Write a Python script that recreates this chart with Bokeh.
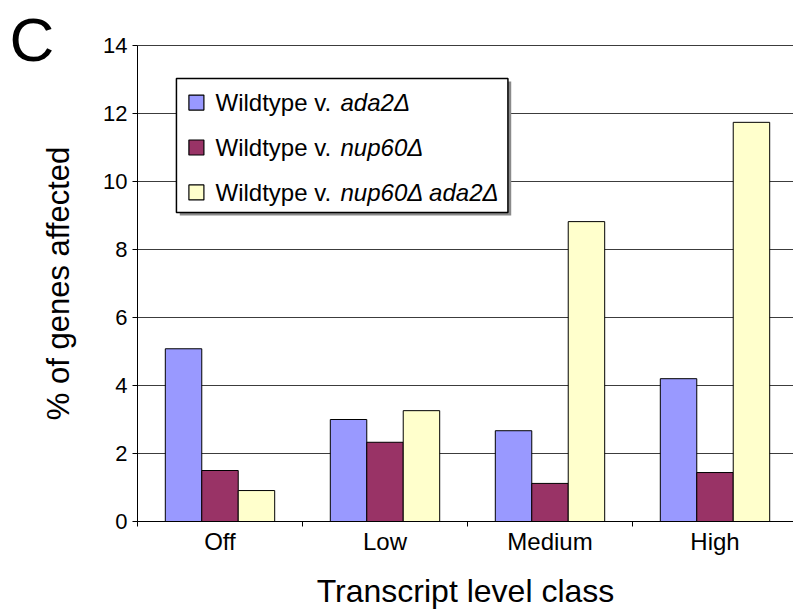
import numpy as np
from bokeh.plotting import figure
from bokeh.models import Range1d, FixedTicker, Label, LinearAxis
from bokeh.core.properties import value
from bokeh.embed import file_html
from bokeh.resources import INLINE

# Data: percentage of genes affected per transcript level class
categories = ["Off", "Low", "Medium", "High"]
ada2 = [5.08, 3.0, 2.67, 4.2]
nup60 = [1.5, 2.33, 1.12, 1.44]
nup60_ada2 = [0.91, 3.26, 8.82, 11.74]

series_values = [ada2, nup60, nup60_ada2]
series_colors = ["#9999FF", "#993366", "#FFFFCC"]
legend_plain = ["Wildtype v. ", "Wildtype v. ", "Wildtype v. "]
legend_italic = ["ada2\u0394", "nup60\u0394", "nup60\u0394 ada2\u0394"]
y_ticks = [0, 2, 4, 6, 8, 10, 12, 14]

FONT = "Liberation Sans"
BAR_W = 0.221
W, H = 793, 611
# pixel geometry of the value area inside the canvas
AX_LEFT, AX_BOTTOM, PX_PER_CAT, PX_PER_UNIT = 137, 521, 165, 34

n_cat = len(categories)
y_max = y_ticks[-1]

# The plot area fills the whole canvas; the axes sit at fixed data locations.
p = figure(width=W, height=H, output_backend="svg", toolbar_location=None,
           x_range=Range1d(-AX_LEFT / PX_PER_CAT, (W - AX_LEFT) / PX_PER_CAT),
           y_range=Range1d(-(H - AX_BOTTOM) / PX_PER_UNIT, AX_BOTTOM / PX_PER_UNIT),
           x_axis_location=None, y_axis_location=None,
           min_border=0)
p.outline_line_color = None
p.background_fill_color = "white"
p.border_fill_color = "white"
p.xgrid.visible = False
p.ygrid.visible = False

# horizontal grid lines at each y tick, from the y axis to the right edge
p.segment(x0=[0] * len(y_ticks), x1=[n_cat] * len(y_ticks), y0=y_ticks,
          y1=y_ticks, line_color="#3c3c3c", line_width=1)

centers = np.arange(n_cat) + 0.5
for i, (vals, col) in enumerate(zip(series_values, series_colors)):
    p.vbar(x=centers + (i - 1) * BAR_W, top=vals, width=BAR_W, bottom=0,
           fill_color=col, line_color="black", line_width=1)

# x axis: labels under the group centres, ticks on the group boundaries
xa = LinearAxis(fixed_location=0, bounds=(0, n_cat))
xa.ticker = FixedTicker(ticks=list(centers), minor_ticks=list(range(n_cat + 1)))
xa.major_label_overrides = {float(c): lab for c, lab in zip(centers, categories)}
xa.major_tick_out = 0
xa.major_tick_in = 0
xa.minor_tick_out = 5
xa.minor_tick_in = 0
xa.minor_tick_line_color = "black"
xa.axis_line_color = "black"
xa.major_label_text_font = FONT
xa.major_label_text_font_size = "24px"
xa.major_label_text_color = "black"
xa.major_label_standoff = 1
xa.axis_label = "Transcript level class"
xa.axis_label_text_font = FONT
xa.axis_label_text_font_size = "32px"
xa.axis_label_text_font_style = "normal"
xa.axis_label_text_color = "black"
xa.axis_label_standoff = 15
p.add_layout(xa, "below")

ya = LinearAxis(fixed_location=0, bounds=(0, y_max))
ya.ticker = FixedTicker(ticks=y_ticks, minor_ticks=[])
ya.major_tick_out = 5
ya.major_tick_in = 0
ya.major_tick_line_color = "black"
ya.axis_line_color = "black"
ya.major_label_text_font = FONT
ya.major_label_text_font_size = "22px"
ya.major_label_text_color = "black"
ya.major_label_standoff = 5
ya.axis_label = "% of genes affected"
ya.axis_label_text_font = FONT
ya.axis_label_text_font_size = "31px"
ya.axis_label_text_font_style = "normal"
ya.axis_label_text_color = "black"
ya.axis_label_standoff = 24
p.add_layout(ya, "left")

# Legend box with a drop shadow
lg_left, lg_right, lg_top, lg_bottom = 0.236, 2.245, 13.03, 9.09
p.quad(left=[lg_left + 0.02], right=[lg_right + 0.02], top=[lg_top - 0.09],
       bottom=[lg_bottom - 0.09], fill_color="#8a8a8a", line_color=None)
p.quad(left=[lg_left], right=[lg_right], top=[lg_top], bottom=[lg_bottom],
       fill_color="white", line_color="black", line_width=1.5)
row_y = [12.32, 11.0, 9.68]
p.rect(x=[0.357] * 3, y=row_y, width=15, height=15, width_units="screen",
       height_units="screen", fill_color=series_colors, line_color="black",
       line_width=1.2)
p.text(x=[0.4727] * 3, y=row_y, text=legend_plain, text_font=value(FONT),
       text_font_size="24px", text_baseline="middle", text_align="left",
       text_color="black")
p.text(x=[0.4727] * 3, y=row_y, text=legend_italic, x_offset=125,
       text_font=value(FONT), text_font_size="24px", text_font_style="italic",
       text_baseline="middle", text_align="left", text_color="black")

# Panel letter in the top-left corner
p.add_layout(Label(x=9, y=H - 4, x_units="screen", y_units="screen",
                   text="C", text_font=FONT, text_font_size="62px",
                   text_baseline="top", text_align="left",
                   text_color="black"))

open("out.html", "w").write(file_html(p, INLINE))
